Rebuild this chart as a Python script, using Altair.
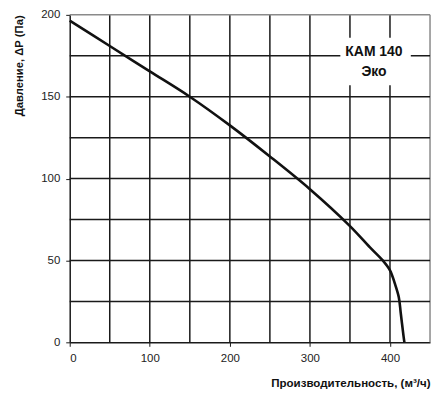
import altair as alt
import pandas as pd

# Curve data
flow = [0, 50, 100, 150, 200, 250, 300, 350, 375, 391, 400, 406, 411, 413.5, 417, 418]
pressure = [196.5, 181, 165.5, 150, 132.5, 113.5, 93.5, 71, 58, 50, 44, 36, 27.6, 17.6, 3.5, 0]

grid_x = [50, 100, 150, 200, 250, 300, 350, 400, 450]
grid_y = [25, 50, 75, 100, 125, 150, 175, 200]
x_ticks = [0, 100, 200, 300, 400]
y_ticks = [0, 50, 100, 150, 200]

label_lines = ["КАМ 140", "Эко"]
label_y = [177.5, 165]

curve = pd.DataFrame({"q": flow, "p": pressure})
gx = pd.DataFrame({"v": grid_x, "edge": [v == 450 for v in grid_x]})
gy = pd.DataFrame({"v": grid_y, "edge": [v == 200 for v in grid_y]})
labels = pd.DataFrame({"t": label_lines, "y": label_y})

xs = alt.Scale(domain=[0, 450], nice=False)
ys = alt.Scale(domain=[0, 200], nice=False)

font = "Liberation Sans"

vrules = alt.Chart(gx).mark_rule().encode(
    x=alt.X("v:Q", scale=xs),
    color=alt.condition("datum.edge", alt.value("#8a8a8a"), alt.value("#1a1a1a")),
    strokeWidth=alt.value(1.5),
)
hrules = alt.Chart(gy).mark_rule().encode(
    y=alt.Y("v:Q", scale=ys),
    color=alt.condition("datum.edge", alt.value("#8a8a8a"), alt.value("#1a1a1a")),
    strokeWidth=alt.value(1.5),
)

box = alt.Chart(pd.DataFrame({"a": [0]})).mark_rect(color="white").encode(
    x=alt.datum(338, scale=xs), x2=alt.datum(426),
    y=alt.datum(157, scale=ys), y2=alt.datum(186),
)

txt = alt.Chart(labels).mark_text(font=font, fontSize=14, fontWeight="bold", color="#111").encode(
    x=alt.datum(380, scale=xs),
    y=alt.Y("y:Q", scale=ys),
    text="t:N",
)

line = alt.Chart(curve).mark_line(color="#111", strokeWidth=2.6, interpolate="catmull-rom").encode(
    x=alt.X("q:Q", scale=xs,
            axis=alt.Axis(values=x_ticks, title="Производительность, (м³/ч)",
                          titleX=362, titleY=41, titleAlign="right", titleBaseline="middle",
                          titleFontSize=11.6)),
    y=alt.Y("p:Q", scale=ys,
            axis=alt.Axis(values=y_ticks, title="Давление, ΔР (Па)",
                          titleX=-50, titleY=0, titleAlign="right", titleBaseline="middle",
                          titleFontSize=11.3)),
)

chart = alt.layer(vrules, hrules, box, txt, line).properties(
    width=362, height=329,
    autosize=alt.AutoSizeParams(type="none"),
    padding={"left": 62, "top": 6, "right": 5, "bottom": 46},
).configure_view(stroke=None).configure_axis(
    grid=False,
    domainColor="#1a1a1a", domainWidth=1.5,
    tickColor="#1a1a1a", tickSize=4, tickWidth=1,
    labelFont=font, labelFontSize=11.5, labelColor="#222", labelPadding=6,
    titleFont=font, titleFontWeight="bold", titleColor="#111",
)

chart.save("out.html", embed_options={"renderer": "svg", "actions": False})
